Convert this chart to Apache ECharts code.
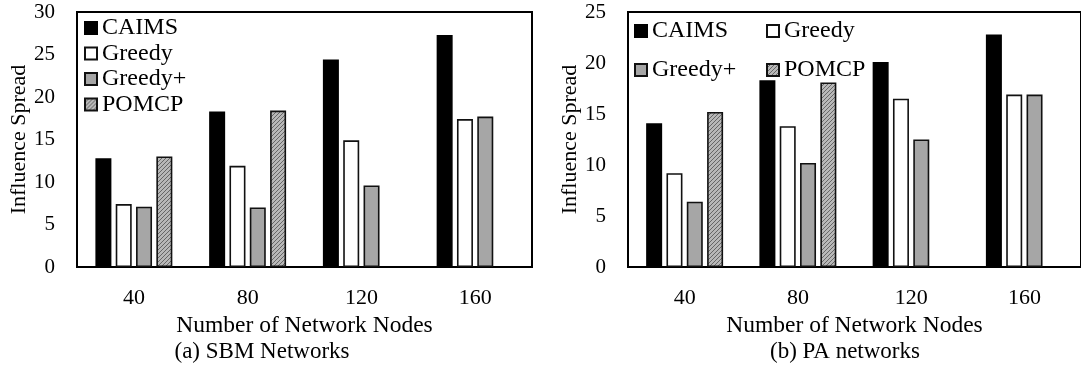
<!DOCTYPE html>
<html>
<head>
<meta charset="utf-8">
<script src="https://cdn.jsdelivr.net/npm/echarts@6/dist/echarts.min.js"></script>
<style>
  html, body { margin: 0; padding: 0; background: #fff; }
  #chart { width: 1081px; height: 370px; }
</style>
</head>
<body>
<div id="chart"></div>
<script>
// Number of network nodes on the x axis
const categories = ['40', '80', '120', '160'];
const seriesNames = ['CAIMS', 'Greedy', 'Greedy+', 'POMCP'];

// (a) SBM networks – influence spread
const sbmCaims      = [12.8, 18.3, 24.4, 27.3];
const sbmGreedy     = [7.4, 11.9, 14.9, 17.4];
const sbmGreedyPlus = [7.1, 7.0, 9.6, 17.7];
const sbmPomcp      = [13.0, 18.4, null, null];

// (b) PA networks – influence spread
const paCaims      = [14.1, 18.3, 20.1, 22.8];
const paGreedy     = [9.2, 13.8, 16.5, 16.9];
const paGreedyPlus = [6.4, 10.2, 12.5, 16.9];
const paPomcp      = [15.2, 18.1, null, null];

const FONT = "'Liberation Serif', 'DejaVu Serif', serif";

// Diagonal hatch fill used for POMCP
function hatchPattern() {
  const c = document.createElement('canvas');
  c.width = 4; c.height = 4;
  const g = c.getContext('2d');
  g.fillStyle = '#b8b8b8';
  g.fillRect(0, 0, 4, 4);
  g.strokeStyle = '#676767';
  g.lineWidth = 1;
  g.beginPath();
  g.moveTo(-1, 5); g.lineTo(5, -1);
  g.moveTo(-1, 1); g.lineTo(1, -1);
  g.moveTo(3, 5); g.lineTo(5, 3);
  g.stroke();
  return { image: c, repeat: 'repeat' };
}

const styles = {
  'CAIMS':   { color: '#000000', borderColor: '#000000', borderWidth: 1.6 },
  'Greedy':  { color: '#ffffff', borderColor: '#111111', borderWidth: 1.6 },
  'Greedy+': { color: '#a6a6a6', borderColor: '#111111', borderWidth: 1.6 },
  'POMCP':   { color: hatchPattern(), borderColor: '#111111', borderWidth: 1.6 }
};

function barSeries(name, data, idx) {
  return {
    name: name,
    type: 'bar',
    xAxisIndex: idx,
    yAxisIndex: idx,
    data: data,
    barWidth: 16,
    barGap: '27%',
    itemStyle: styles[name],
    emphasis: { disabled: true },
    animation: false
  };
}

function xAxisFor(idx) {
  return {
    type: 'category',
    gridIndex: idx,
    data: categories,
    axisTick: { show: false },
    axisLine: { show: true, lineStyle: { color: '#000', width: 2 } },
    axisLabel: { color: '#000', fontFamily: FONT, fontSize: 22, margin: 20 },
    name: 'Number of Network Nodes',
    nameLocation: 'middle',
    nameGap: 43,
    nameTextStyle: { color: '#000', fontFamily: FONT, fontSize: 23.5 }
  };
}

function yAxisFor(idx, max) {
  return {
    type: 'value',
    gridIndex: idx,
    min: 0,
    max: max,
    interval: 5,
    splitLine: { show: false },
    axisTick: { show: false },
    axisLine: { show: true, lineStyle: { color: '#000', width: 2 } },
    axisLabel: { color: '#000', fontFamily: FONT, fontSize: 21, margin: 22 },
    name: 'Influence Spread',
    nameLocation: 'middle',
    nameGap: 46,
    nameTextStyle: { color: '#000', fontFamily: FONT, fontSize: 22 }
  };
}

const legendText = { color: '#000', fontFamily: FONT, fontSize: 24, lineHeight: 22 };
function legendItem(name, left, top) {
  return {
    data: [name],
    left: left,
    top: top,
    padding: 0,
    icon: 'rect',
    itemWidth: 12,
    itemHeight: 12,
    itemGap: 4,
    textStyle: legendText,
    selectedMode: false
  };
}

const chart = echarts.init(document.getElementById('chart'), null, { renderer: 'canvas' });
chart.setOption({
  backgroundColor: '#fff',
  animation: false,
  grid: [
    { left: 77, top: 12, width: 455, height: 255, show: true, borderColor: '#000', borderWidth: 2 },
    { left: 628, top: 12, width: 455, height: 255, show: true, borderColor: '#000', borderWidth: 2 }
  ],
  xAxis: [xAxisFor(0), xAxisFor(1)],
  yAxis: [yAxisFor(0, 30), yAxisFor(1, 25)],
  legend: [
    {
      data: seriesNames,
      orient: 'vertical',
      left: 84,
      top: 16,
      padding: 0,
      icon: 'rect',
      itemWidth: 12,
      itemHeight: 12,
      itemGap: 1.5,
      textStyle: legendText,
      selectedMode: false
    },
    legendItem('CAIMS', 634, 19),
    legendItem('Greedy', 766, 19),
    legendItem('Greedy+', 634, 58),
    legendItem('POMCP', 766, 58)
  ],
  graphic: [
    { type: 'text', x: 262, y: 352,
      style: { text: '(a) SBM Networks', font: '23px ' + FONT, fill: '#000',
               align: 'center', verticalAlign: 'middle' } },
    { type: 'text', x: 845, y: 352,
      style: { text: '(b) PA networks', font: '23px ' + FONT, fill: '#000',
               align: 'center', verticalAlign: 'middle' } }
  ],
  series: [
    barSeries('CAIMS', sbmCaims, 0),
    barSeries('Greedy', sbmGreedy, 0),
    barSeries('Greedy+', sbmGreedyPlus, 0),
    barSeries('POMCP', sbmPomcp, 0),
    barSeries('CAIMS', paCaims, 1),
    barSeries('Greedy', paGreedy, 1),
    barSeries('Greedy+', paGreedyPlus, 1),
    barSeries('POMCP', paPomcp, 1)
  ]
});
</script>
</body>
</html>
